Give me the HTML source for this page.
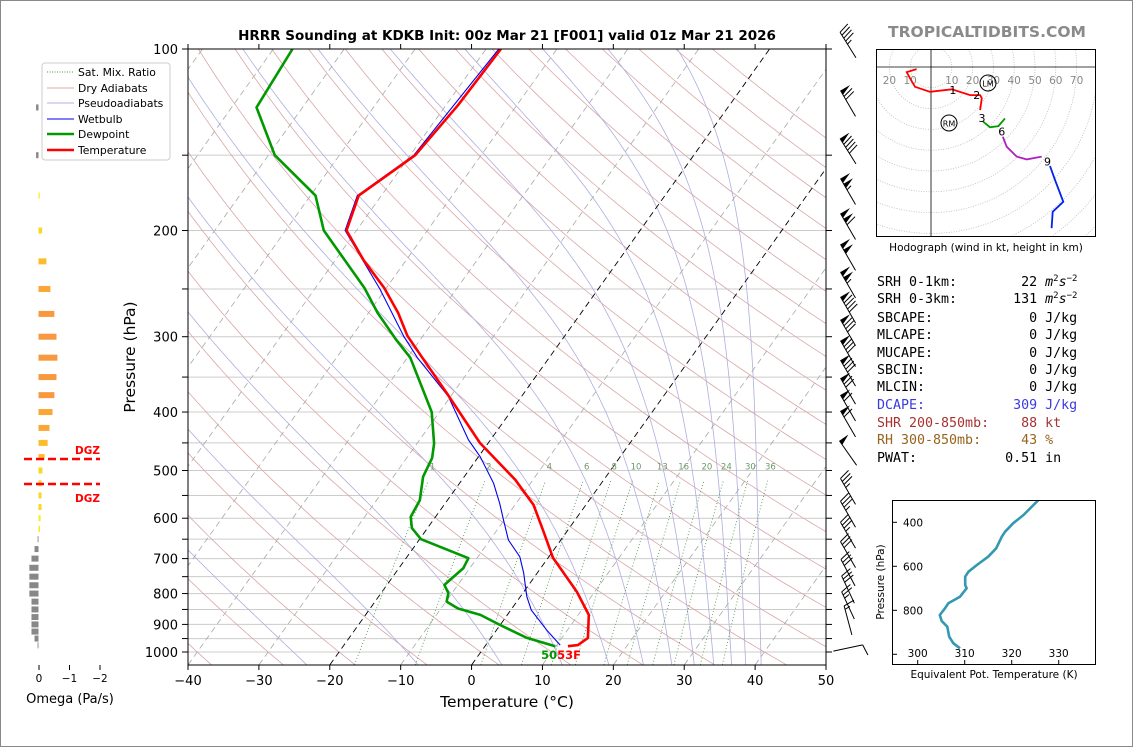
<!DOCTYPE html>
<html><head><meta charset="utf-8">
<style>
html,body{margin:0;padding:0;background:#fff;}
svg{display:block;font-family:"DejaVu Sans","Liberation Sans",sans-serif;}
.mono{font-family:"DejaVu Sans Mono","Liberation Mono",monospace;font-size:13.3px;white-space:pre;}
</style></head>
<body>
<svg id="fig" width="1134" height="748" viewBox="0 0 1134 748" xmlns="http://www.w3.org/2000/svg">
<rect x="0.5" y="0.5" width="1132" height="746" fill="#fff" stroke="#888"/>
<defs>
<clipPath id="mainclip"><rect x="188" y="49" width="638" height="616"/></clipPath>
<clipPath id="hodoclip"><rect x="876" y="49" width="220" height="188"/></clipPath>
<clipPath id="thclip"><rect x="892" y="500" width="204" height="165"/></clipPath>
</defs>
<text x="507" y="40" text-anchor="middle" font-size="13.5" font-weight="bold">HRRR Sounding at KDKB Init: 00z Mar 21 [F001] valid 01z Mar 21 2026</text>
<text x="987" y="37" text-anchor="middle" font-size="15.5" font-weight="bold" fill="#8a8a8a">TROPICALTIDBITS.COM</text>
<g id="bg" clip-path="url(#mainclip)"></g>
<g id="data" clip-path="url(#mainclip)"></g>
<g id="axes"></g>
<g id="barbs"></g>
<g id="omega"></g>
<g id="hodo"></g>
<g id="thetae"></g>
<g id="legend">
<rect x="42" y="63" width="128" height="97" rx="3" fill="#fff" stroke="#ccc"/>
<line x1="47" y1="72" x2="74" y2="72" stroke="#4a9a4a" stroke-dasharray="1,1.5"/>
<text x="78" y="76" font-size="10.8">Sat. Mix. Ratio</text>
<line x1="47" y1="88" x2="74" y2="88" stroke="#e0a8a8"/>
<text x="78" y="92" font-size="10.8">Dry Adiabats</text>
<line x1="47" y1="103" x2="74" y2="103" stroke="#b0b0dc"/>
<text x="78" y="107" font-size="10.8">Pseudoadiabats</text>
<line x1="47" y1="119" x2="74" y2="119" stroke="#0000ee"/>
<text x="78" y="123" font-size="10.8">Wetbulb</text>
<line x1="47" y1="134" x2="74" y2="134" stroke="#009900" stroke-width="2.5"/>
<text x="78" y="138" font-size="10.8">Dewpoint</text>
<line x1="47" y1="150" x2="74" y2="150" stroke="#ff0000" stroke-width="2.5"/>
<text x="78" y="154" font-size="10.8">Temperature</text>
</g>
<g id="stats" class="mono">
<text x="877" y="286" class="mono">SRH 0-1km:        22 <tspan font-style="italic">m</tspan><tspan font-size="9" dy="-5">2</tspan><tspan font-style="italic" dy="5">s</tspan><tspan font-size="9" dy="-5">−2</tspan></text>
<text x="877" y="303" class="mono">SRH 0-3km:       131 <tspan font-style="italic">m</tspan><tspan font-size="9" dy="-5">2</tspan><tspan font-style="italic" dy="5">s</tspan><tspan font-size="9" dy="-5">−2</tspan></text>
<text x="877" y="322" class="mono">SBCAPE:            0 J/kg</text>
<text x="877" y="339" class="mono">MLCAPE:            0 J/kg</text>
<text x="877" y="357" class="mono">MUCAPE:            0 J/kg</text>
<text x="877" y="374" class="mono">SBCIN:             0 J/kg</text>
<text x="877" y="391" class="mono">MLCIN:             0 J/kg</text>
<text x="877" y="409" class="mono" fill="#3a3ae0">DCAPE:           309 J/kg</text>
<text x="877" y="427" class="mono" fill="#a83232">SHR 200-850mb:    88 kt</text>
<text x="877" y="444" class="mono" fill="#96641e">RH 300-850mb:     43 %</text>
<text x="877" y="462" class="mono">PWAT:           0.51 in</text>
</g>
</svg>
<script>
// ---------- DATA ----------
const tempP = [100,124,150,175,200,224,249,274,299,325,372,450,518,570,628,698,795,868,948,974,978];
const tempT = [-57.9,-58.3,-59.3,-63.2,-61.4,-56.0,-50.3,-45.8,-42.2,-37.9,-30.9,-21.2,-12.5,-7.4,-3.5,0.7,7.5,11.5,13.7,13.0,11.7];
const dewP = [100,125,150,175,200,249,274,304,325,400,451,477,512,560,597,623,650,699,726,774,799,825,847,868,902,947,978];
const dewT = [-87.3,-86.5,-79.1,-69.3,-64.6,-53.1,-48.7,-43.3,-39.6,-31.1,-27.6,-26.4,-25.8,-23.9,-23.5,-22.2,-19.8,-11.2,-10.9,-11.9,-10.5,-9.9,-7.6,-3.8,0.0,5.0,9.9];
const wbP = [100,150,175,200,250,300,325,377,445,474,525,567,604,652,695,740,809,852,920,974];
const wbT = [-58.2,-59.5,-63.4,-61.6,-50.8,-42.6,-38.6,-30.3,-23.1,-19.8,-15.2,-12.3,-10.1,-7.4,-4.1,-1.9,0.9,2.9,7.1,10.5];
const sfcTdLabel = "50", sfcTLabel = "53F";
const xTicks = [-40,-30,-20,-10,0,10,20,30,40,50];
const yTickLabels = [100,200,300,400,500,600,700,800,900,1000];
const mixRatios = [1,2,4,6,8,10,13,16,20,24,30,36];
// wind barbs
const windP = [100,125,150,175,200,225,250,275,300,325,350,375,400,425,475,550,600,650,700,750,800,850,900,1000];
const windSpd = [45,70,90,105,110,100,105,90,80,80,80,70,60,60,50,35,35,35,30,30,30,25,15,10];
const windDir = [328,330,328,330,330,330,330,330,330,330,330,330,330,330,325,330,330,330,330,332,335,335,345,78];
// omega
const omegaP = [125,150,175,200,225,250,275,300,325,350,375,400,425,450,475,500,525,550,575,600,625,650,675,700,725,750,775,800,825,850,875,900,925,950,975];
const omegaV = [0.08,0.08,-0.04,-0.12,-0.26,-0.39,-0.52,-0.59,-0.62,-0.59,-0.52,-0.46,-0.36,-0.30,-0.20,-0.13,-0.10,-0.10,-0.10,-0.07,-0.05,0.03,0.13,0.23,0.30,0.30,0.30,0.30,0.23,0.23,0.23,0.23,0.23,0.13,0.03];
const omegaTicks = [0,-1,-2];
// hodograph (kt)
const hodoU1 = [-6.9,-11.7,-10.1,-7.7,-0.5,10,18.8,23.6,24.4,23.6];
const hodoV1 = [-1.0,-2.5,-5.4,-9.5,-11.9,-10.7,-13.5,-13.5,-15,-20.7];
const hodoU2 = [25.1,28.4,32.4,35.6];
const hodoV2 = [-26.3,-29,-28.4,-24.7];
const hodoU3 = [34.5,36.4,41.2,46,53.2];
const hodoV3 = [-33.5,-38.3,-43.1,-44.4,-43.1];
const hodoU4 = [57.2,59.6,63.6,58.5,58];
const hodoV4 = [-47.6,-54.3,-64.8,-69.6,-77.5];
const hodoLabels = ["1","2","3","6","9"];
const hodoLabU = [10.5,22,24.5,34,56];
const hodoLabV = [-11,-13.5,-24.5,-31,-45.5];
const hodoRingLabels = [20,10,10,20,30,40,50,60,70];
const hodoRingX = [-20,-10,10,20,30,40,50,60,70];
// theta-e
const thP = [298.6,366.8,404.5,442.7,465.5,518.2,556.4,594.1,624.5,647.3,685,700,738.2,768.2,790.9,821.4,848.6,874.5,920,950,972.7];
const thE = [325.7,322.5,320.3,318.6,317.9,316.7,315.0,312.6,310.8,310.1,310.1,310.4,309.0,306.5,305.8,304.7,305.1,306.3,306.7,307.6,309.0];
const thXTicks = [300,310,320,330];
const thYTicks = [400,600,800];

// ---------- helpers ----------
const NS = "http://www.w3.org/2000/svg";
function mk(tag, attrs, parent){ const e=document.createElementNS(NS,tag); for(const k in attrs) e.setAttribute(k,attrs[k]); parent.appendChild(e); return e; }
const X0=188, XS=638/90, YB=665, SK=0.714;
function yP(p){ return 49 + 603*Math.log10(p/100); }
function xT(T,p){ return X0 + (T+40)*XS + SK*(YB - yP(p)); }
function pts(arrP, arrT){ return arrP.map((p,i)=>xT(arrT[i],p).toFixed(1)+","+yP(p).toFixed(1)).join(" "); }

const bg=document.getElementById('bg'), dg=document.getElementById('data'), ax=document.getElementById('axes');

for(let p=100;p<=1000;p+=50){
  const l=mk('line',{x1:188,x2:826,y1:yP(p),y2:yP(p),stroke:'#cccccc','stroke-width':1},bg);
   
}
for(let th=-50; th<=200; th+=10){
  const a=[]; for(let p=1050;p>=100;p-=10){ const T=(th+273.15)*Math.pow(p/1000,0.2857)-273.15; a.push(xT(T,p).toFixed(1)+","+yP(p).toFixed(1)); }
  const l=mk('polyline',{points:a.join(" "),fill:'none',stroke:'#dba6a6','stroke-width':0.8},bg);
   
}
function es(T){ return 6.112*Math.exp(17.67*T/(T+243.5)); }
function dTdp(T,p){ const Tk=T+273.15, r=0.622*es(T)/(p-es(T)); return (287*Tk+2.501e6*r)/(p*(1005+2.501e6*2.501e6*r*0.622/(287*Tk*Tk))); }
// moist adiabats anchored by temperature at 100 hPa
const moistTop=[-145,-135,-125,-115,-104.5,-94.3,-83.7,-73.5,-63,-52,-42.8,-33];
moistTop.forEach(t0=>{
  const a=[]; let T=t0;
  for(let p=100;p<=1052;p+=2){ a.push(xT(T,p).toFixed(1)+","+yP(p).toFixed(1)); T+=dTdp(T,p)*2; }
  const l=mk('polyline',{points:a.join(" "),fill:'none',stroke:'#aeaee0','stroke-width':0.8},bg);
   
});
for(let T=-120;T<=50;T+=10){
  const black = (T===0||T===-20);
  const l=mk('line',{x1:xT(T,1050),y1:yP(1050),x2:xT(T,100),y2:yP(100),stroke:black?'#000':'#a8a8a8','stroke-width':black?0.9:0.8,'stroke-dasharray':'6,4'},bg);
   
}
mixRatios.forEach(w=>{
  const a=[]; for(let p=1050;p>=520;p-=10){ const e=w*p/(622+w), L=Math.log(e/6.112); const T=243.5*L/(17.67-L); a.push(xT(T,p).toFixed(1)+","+yP(p).toFixed(1)); }
  const l=mk('polyline',{points:a.join(" "),fill:'none',stroke:'#5a9a5a','stroke-width':0.9,'stroke-dasharray':'1,2.2'},bg);
   
});
let l=mk('polyline',{points:pts(wbP,wbT),fill:'none',stroke:'#0000ee','stroke-width':1.1},dg);
 
l=mk('polyline',{points:pts(dewP,dewT),fill:'none',stroke:'#009900','stroke-width':2.6,'stroke-linejoin':'round'},dg);
 
l=mk('polyline',{points:pts(tempP,tempT),fill:'none',stroke:'#ff0000','stroke-width':2.6,'stroke-linejoin':'round'},dg);
 
mixRatios.forEach(w=>{
  const e=w*500/(622+w), L=Math.log(e/6.112), T=243.5*L/(17.67-L);
  const t=mk('text',{x:xT(T,500),y:yP(500)-1,'font-size':8.5,'text-anchor':'middle',fill:'#6a9a6a'},ax); t.textContent=w;
   
});
const sp=dewP[dewP.length-1];
let st=mk('text',{x:xT(dewT[dewT.length-1],sp)+2,y:yP(sp)+13,'font-size':11.5,'font-weight':'bold','text-anchor':'end',fill:'#009900'},ax); st.textContent=sfcTdLabel;
 
st=mk('text',{x:xT(dewT[dewT.length-1],sp)+2,y:yP(sp)+13,'font-size':11.5,'font-weight':'bold',fill:'#ff0000'},ax); st.textContent=sfcTLabel;
 

l=mk('rect',{x:188,y:49,width:638,height:616,fill:'none',stroke:'#000','stroke-width':1},ax);
 
xTicks.forEach(T=>{
  const x=X0+(T+40)*XS;
  let t=mk('line',{x1:x,x2:x,y1:665,y2:670,stroke:'#000'},ax);  
  t=mk('line',{x1:x,x2:x,y1:49,y2:44,stroke:'#000'},ax);  
  const lb=mk('text',{x:x,y:685,'font-size':13,'text-anchor':'middle'},ax); lb.textContent=(T<0?'\u2212'+(-T):T);
   
});
for(let p=100;p<=1000;p+=50){
  const y=yP(p);
  let t=mk('line',{x1:188,x2:182,y1:y,y2:y,stroke:'#000'},ax);  
  t=mk('line',{x1:826,x2:832,y1:y,y2:y,stroke:'#000'},ax);  
}
yTickLabels.forEach(p=>{
  const lb=mk('text',{x:178,y:yP(p)+5,'font-size':13,'text-anchor':'end'},ax); lb.textContent=p;
   
});
let lb=mk('text',{x:507,y:707,'font-size':15.5,'text-anchor':'middle'},ax); lb.textContent='Temperature (\u00b0C)';
 
lb=mk('text',{x:0,y:0,'font-size':15.5,'text-anchor':'middle',transform:'translate(135,357) rotate(-90)'},ax); lb.textContent='Pressure (hPa)';
 

// wind barbs (pivot middle)
const bgp=document.getElementById('barbs');
windP.forEach((p,i)=>{
  const L=30, a=windDir[i]*Math.PI/180;
  const vx=Math.sin(a), vy=-Math.cos(a), px=-vy, py=vx;
  const cx=848, cy=yP(p)-4;
  const bx=cx-vx*L/2, by=cy-vy*L/2;
  const g=mk('g',{},bgp);  
  const tx=bx+vx*L, ty=by+vy*L;
  mk('line',{x1:bx,y1:by,x2:tx,y2:ty,stroke:'#000','stroke-width':1},g);
  let s=Math.round(windSpd[i]/5)*5, pos=0; const bl=11, fw=5;
  while(s>=50){ const x1=tx-vx*pos, y1=ty-vy*pos;
    mk('polygon',{points:`${x1},${y1} ${x1+px*bl},${y1+py*bl} ${x1-vx*fw},${y1-vy*fw}`,fill:'#000'},g); pos+=fw+1; s-=50; }
  if(pos>0) pos+=1;
  while(s>=10){ const x1=tx-vx*pos, y1=ty-vy*pos;
    mk('line',{x1:x1,y1:y1,x2:x1+px*bl+vx*3,y2:y1+py*bl+vy*3,stroke:'#000','stroke-width':1},g); pos+=3.5; s-=10; }
  if(s>=5){ if(pos===0) pos=3.5; const x1=tx-vx*pos, y1=ty-vy*pos;
    mk('line',{x1:x1,y1:y1,x2:x1+px*bl*0.5+vx*1.5,y2:y1+py*bl*0.5+vy*1.5,stroke:'#000','stroke-width':1},g); }
});

// omega panel
const og=document.getElementById('omega');
const OX0=38.5, OXS=30.5;
function omegaColor(v){ if(v>0) return '#888888'; const m=-v;
  if(m<0.08) return '#f6ec1e'; if(m<0.2) return '#fbd625'; if(m<0.32) return '#fcbd2c'; if(m<0.5) return '#fba636'; return '#f8983f'; }
omegaP.forEach((p,i)=>{
  const v=omegaV[i], x2=OX0 - v*OXS; const y=yP(p);
  const r=mk('rect',{x:Math.min(OX0,x2),y:y-3,width:Math.max(0.8,Math.abs(x2-OX0)),height:6,fill:omegaColor(v)},og);
   
});
omegaTicks.forEach(v=>{
  const x=OX0 - v*OXS + 0.5;
  const t=mk('line',{x1:x,x2:x,y1:665,y2:670,stroke:'#000'},og);  
  const tl=mk('text',{x:x,y:682,'font-size':10.5,'text-anchor':'middle'},og); tl.textContent=(v<0?'\u2212'+(-v):v);
   
});
lb=mk('text',{x:70,y:703,'font-size':13,'text-anchor':'middle'},og); lb.textContent='Omega (Pa/s)';
 
[[459,450],[484,498]].forEach((d,i)=>{
  const dl=mk('line',{x1:24,x2:100,y1:d[0],y2:d[0],stroke:'#ff0000','stroke-width':2.5,'stroke-dasharray':'8,4'},og);
   
  const dt=mk('text',{x:100,y:d[1]+4,'font-size':10.5,'font-weight':'bold','text-anchor':'end',fill:'#ff0000'},og); dt.textContent='DGZ';
   
});

// hodograph
const hg=document.getElementById('hodo');
const HX=931, HY=67, HS=2.08;
const hc=mk('g',{'clip-path':'url(#hodoclip)'},hg);
for(let k=1;k<=11;k++){ const c=mk('circle',{cx:HX,cy:HY,r:k*10*HS,fill:'none',stroke:'#bbbbbb','stroke-width':0.8,'stroke-dasharray':'1,1.5'},hc);
    }
mk('line',{x1:876,x2:1096,y1:HY,y2:HY,stroke:'#000','stroke-width':0.8},hc);
mk('line',{x1:HX,x2:HX,y1:49,y2:237,stroke:'#000','stroke-width':0.8},hc);
hodoRingX.forEach((u,i)=>{ const t=mk('text',{x:HX+u*HS,y:HY+17,'font-size':10.5,'text-anchor':'middle',fill:'#888'},hc); t.textContent=hodoRingLabels[i];
    });
function hpts(U,V){ return U.map((u,i)=>(HX+u*HS).toFixed(1)+","+(HY-V[i]*HS).toFixed(1)).join(" "); }
[[hodoU1,hodoV1,'#ff0000'],[hodoU2,hodoV2,'#009900'],[hodoU3,hodoV3,'#b020c0'],[hodoU4,hodoV4,'#0022ee']].forEach((s,i)=>{
  const pl=mk('polyline',{points:hpts(s[0],s[1]),fill:'none',stroke:s[2],'stroke-width':1.8},hc);
   
});
hodoLabels.forEach((t,i)=>{ const e=mk('text',{x:HX+hodoLabU[i]*HS,y:HY-hodoLabV[i]*HS+4,'font-size':11,'text-anchor':'middle'},hc); e.textContent=t;
    });
[[988,83,'LM'],[949,123,'RM']].forEach(m=>{
  const c=mk('circle',{cx:m[0],cy:m[1],r:8,fill:'none',stroke:'#000','stroke-width':1},hc);
   
  const t=mk('text',{x:m[0],y:m[1]+3.5,'font-size':8,'text-anchor':'middle'},hc); t.textContent=m[2];
   
});
l=mk('rect',{x:876.5,y:49.5,width:219,height:187,fill:'none',stroke:'#000'},hg);  
lb=mk('text',{x:986,y:251,'font-size':10.5,'text-anchor':'middle'},hg); lb.textContent='Hodograph (wind in kt, height in km)';
 

// theta-e panel
const tg=document.getElementById('thetae');
function thX(t){ return 917.7 + (t-300)*4.7; }
function thY(p){ return 522.3 + (p-400)*0.22; }
l=mk('polyline',{points:thP.map((p,i)=>thX(thE[i]).toFixed(1)+","+thY(p).toFixed(1)).join(" "),fill:'none',stroke:'#3399b0','stroke-width':2.6,'stroke-linejoin':'round'},mk('g',{'clip-path':'url(#thclip)'},tg));
 
l=mk('rect',{x:892.5,y:500.5,width:203,height:164,fill:'none',stroke:'#000'},tg);  
thXTicks.forEach(t=>{ const x=thX(t);
  const k=mk('line',{x1:x,x2:x,y1:665,y2:660,stroke:'#000'},tg);  
  const e=mk('text',{x:x,y:657,'font-size':10.5,'text-anchor':'middle'},tg); e.textContent=t;   });
thYTicks.forEach(p=>{ const y=thY(p);
  const k=mk('line',{x1:892,x2:897,y1:y,y2:y,stroke:'#000'},tg);  
  const e=mk('text',{x:923,y:y+4,'font-size':10.5,'text-anchor':'end'},tg); e.textContent=p;   });
l=mk('line',{x1:892,x2:897,y1:thY(1000),y2:thY(1000),stroke:'#000'},tg);  
lb=mk('text',{x:994,y:678,'font-size':10.5,'text-anchor':'middle'},tg); lb.textContent='Equivalent Pot. Temperature (K)';
 
lb=mk('text',{x:0,y:0,'font-size':10.5,'text-anchor':'middle',transform:'translate(884,582) rotate(-90)'},tg); lb.textContent='Pressure (hPa)';
 
</script>
</body></html>
